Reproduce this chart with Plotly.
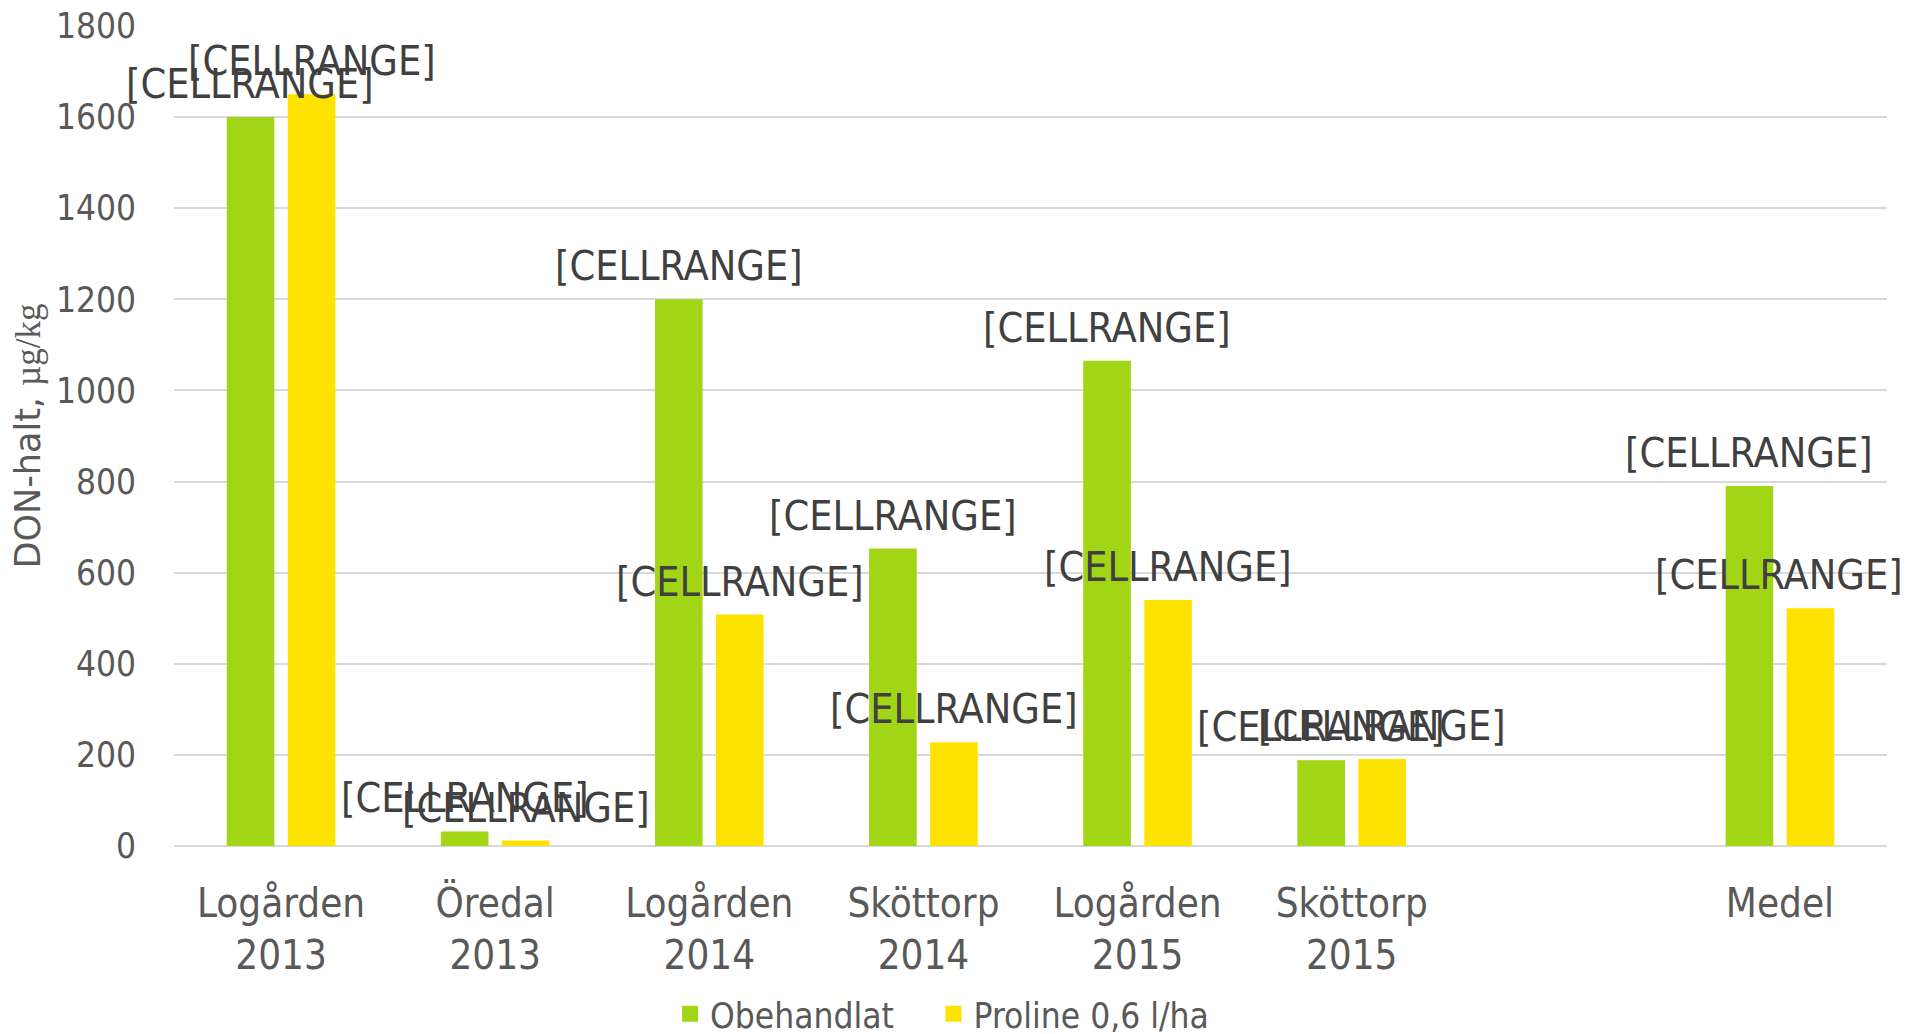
import plotly.graph_objects as go

categories = ["Logården<br>2013", "Öredal<br>2013", "Logården<br>2014", "Sköttorp<br>2014",
              "Logården<br>2015", "Sköttorp<br>2015", " ", "Medel"]
obehandlat = [1600, 32, 1200, 653, 1065, 188, None, 790]
proline = [1650, 12, 508, 228, 540, 191, None, 522]
label_text = "[CELLRANGE]"
series_names = ["Obehandlat", "Proline 0,6 l/ha"]
y_ticks = [0, 200, 400, 600, 800, 1000, 1200, 1400, 1600, 1800]

GREEN = "#A2D515"
YELLOW = "#FFE300"
FONT = "DejaVu Sans Condensed, DejaVu Sans, Liberation Sans, sans-serif"

fig = go.Figure()
fig.add_trace(go.Bar(x=categories, y=obehandlat, name=series_names[0], marker_color=GREEN,
                     marker_line_width=0, showlegend=False))
fig.add_trace(go.Bar(x=categories, y=proline, name=series_names[1], marker_color=YELLOW,
                     marker_line_width=0, showlegend=False))
# legend entries with larger square swatches, each in its own legend box
for nm, col, lg in zip(series_names, (GREEN, YELLOW), ("legend", "legend2")):
    fig.add_trace(go.Scatter(x=[None], y=[None], mode="markers", name=nm, legend=lg,
                             marker=dict(symbol="square", size=20, color=col)))

# label placement nudges (px) where the original moved a label to avoid the edge
label_nudge = {("proline", "Medel"): -32}

annotations = []
for key, vals, shift in (("obehandlat", obehandlat, -30.6), ("proline", proline, 30.6)):
    for c, v in zip(categories, vals):
        if v is None:
            continue
        annotations.append(dict(x=c, y=v, xref="x", yref="y", text=label_text, showarrow=False,
                                xshift=shift + label_nudge.get((key, c), 0), yshift=7,
                                yanchor="bottom",
                                font=dict(family=FONT, size=41, color="#404040")))

legend_common = dict(orientation="h", xanchor="left", y=-0.205, yanchor="middle",
                     font=dict(size=35, color="#595959"), bgcolor="rgba(0,0,0,0)")

# page body has an 8px margin, so the figure is sized/offset to compensate
fig.update_layout(
    width=1911, height=1026,
    margin=dict(l=166, r=32, t=18, b=188, autoexpand=False),
    paper_bgcolor="white", plot_bgcolor="white",
    barmode="group", bargap=0.43, bargroupgap=0.22,
    font=dict(family=FONT, color="#595959", size=35),
    showlegend=True,
    legend=dict(x=0.2896, **legend_common),
    legend2=dict(x=0.4434, **legend_common),
    annotations=annotations,
)
fig.update_xaxes(range=[-0.5, 7.5], showgrid=False, showline=False, ticks="outside", ticklen=22,
                 tickcolor="rgba(0,0,0,0)", tickfont=dict(size=40, color="#595959"),
                 automargin=False)
fig.update_yaxes(range=[0, 1800], tickvals=y_ticks, showgrid=True, gridcolor="#D9D9D9",
                 gridwidth=1.5, zeroline=True, zerolinecolor="#D9D9D9", zerolinewidth=1.5,
                 showline=False, ticks="outside", ticklen=30, tickcolor="rgba(0,0,0,0)",
                 ticklabeloverflow="allow",
                 tickfont=dict(size=35, color="#595959"), automargin=False,
                 title=dict(text="<span style=\"font-family:'DejaVu Sans'\">DON-halt, </span>"
                                 "<span style=\"font-family:'Liberation Serif'\">µg/kg</span>",
                            font=dict(size=35, color="#595959"), standoff=8))

fig.write_html("out.html")
